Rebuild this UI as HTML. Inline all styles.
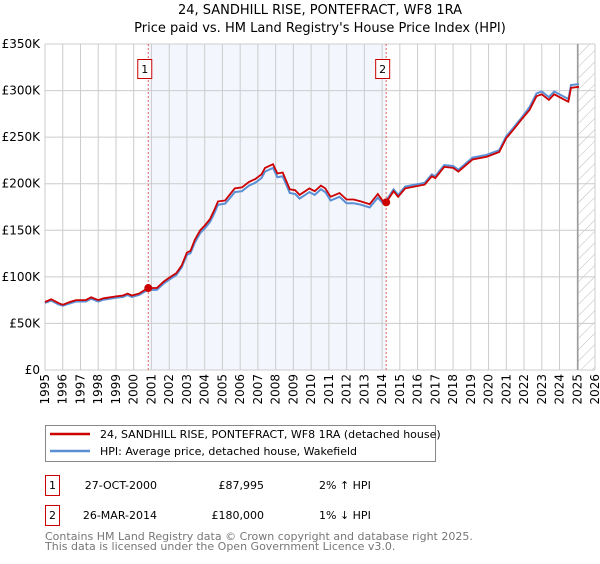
<!DOCTYPE html>
<html><head><meta charset="utf-8"><style>
body{margin:0;background:#fff;font-family:"DejaVu Sans","Liberation Sans",sans-serif;}
svg text{font-family:"DejaVu Sans","Liberation Sans",sans-serif;}
</style></head><body>
<svg id="c" width="600" height="560" xmlns="http://www.w3.org/2000/svg">
<defs><pattern id="hatch" patternUnits="userSpaceOnUse" width="8" height="8" patternTransform="rotate(45)"><line x1="0" y1="0" x2="0" y2="8" stroke="#bbb" stroke-width="1"/></pattern></defs>
<text x="320" y="14" text-anchor="middle" font-size="13">24, SANDHILL RISE, PONTEFRACT, WF8 1RA</text>
<text x="320" y="32" text-anchor="middle" font-size="13">Price paid vs. HM Land Registry's House Price Index (HPI)</text>
<g id="plot"></g>
<g>
<rect x="45.5" y="425.5" width="390" height="36" fill="#fff" stroke="#888"/>
<line x1="50" y1="434" x2="90" y2="434" stroke="#cc0000" stroke-width="2.5"/>
<text x="100" y="438" font-size="11">24, SANDHILL RISE, PONTEFRACT, WF8 1RA (detached house)</text>
<line x1="50" y1="451" x2="90" y2="451" stroke="#5b8fd4" stroke-width="2.5"/>
<text x="100" y="455" font-size="11">HPI: Average price, detached house, Wakefield</text>
</g>
<g font-size="11">
<rect x="45.5" y="475.5" width="14" height="20" fill="#fff" stroke="#cc0000"/><text x="52.5" y="489" text-anchor="middle">1</text>
<text x="157" y="489" text-anchor="end">27-OCT-2000</text><text x="264" y="489" text-anchor="end">£87,995</text><text x="319" y="489">2% ↑ HPI</text>
<rect x="45.5" y="505.5" width="14" height="20" fill="#fff" stroke="#cc0000"/><text x="52.5" y="519" text-anchor="middle">2</text>
<text x="157" y="519" text-anchor="end">26-MAR-2014</text><text x="264" y="519" text-anchor="end">£180,000</text><text x="319" y="519">1% ↓ HPI</text>
</g>
<text x="45" y="540" font-size="11" fill="#777">Contains HM Land Registry data © Crown copyright and database right 2025.</text>
<text x="45" y="550" font-size="11" fill="#777">This data is licensed under the Open Government Licence v3.0.</text>
</svg>
<script>
const dates=[1995.0,1995.35,1995.75,1996.0,1996.4,1996.75,1997.3,1997.6,1998.0,1998.3,1999.0,1999.4,1999.65,1999.9,2000.3,2000.8,2001.3,2001.7,2002.0,2002.4,2002.7,2003.0,2003.2,2003.45,2003.75,2004.0,2004.3,2004.55,2004.75,2005.15,2005.4,2005.7,2006.1,2006.5,2006.85,2007.2,2007.4,2007.85,2008.1,2008.4,2008.8,2009.1,2009.35,2009.9,2010.2,2010.55,2010.8,2011.1,2011.6,2012.0,2012.4,2012.8,2013.3,2013.76,2014.05,2014.23,2014.65,2014.9,2015.3,2016.4,2016.8,2017.0,2017.5,2018.0,2018.3,2019.1,2019.9,2020.6,2021.0,2021.4,2021.9,2022.3,2022.7,2023.0,2023.4,2023.7,2024.3,2024.5,2024.65,2025.1];
const propertyValues=[73,76,72,70,73,75,75,78,75,77,79,80,82,80,82,88,88,95,99,104,112,126,128,140,150,155,162,172,181,182,188,195,196,202,205,210,217,221,211,212,194,193,188,195,192,198,195,186,190,183,183,181,178,189,181,180,192,186,195,199,208,206,218,217,213,226,229,234,249,258,270,279,294,296,290,296,290,288,303,304];
const hpiValues=[72,74.5,70.5,69,71.5,73.5,73.5,76.5,73.5,75.5,77.5,78.5,80.5,78.5,80.5,86,86,93,97,102,110,123.5,125.5,137,147,152,159,168.5,177.5,178.5,184,191,192,198,201,206,213,217,207,208,190,189,184,191,188,194,191,182,186,179,179,177.5,174.5,185,179,182,194,188,197,201,210,208,220,219,215,228,231,236,251,260,272,282,297,299,293,299,293,291,306,307];
const yTicks=[0,50,100,150,200,250,300,350];
const yTickLabels=["£0","£50K","£100K","£150K","£200K","£250K","£300K","£350K"];
const xYears=[1995,1996,1997,1998,1999,2000,2001,2002,2003,2004,2005,2006,2007,2008,2009,2010,2011,2012,2013,2014,2015,2016,2017,2018,2019,2020,2021,2022,2023,2024,2025,2026];
const saleDates=[2000.82,2014.23];
const salePrices=[87.995,180];
const saleLabels=["1","2"];
const dataEnd=2025.03;
const X0=45,X1=595,Y0=370,Y1=44;
const x=v=>X0+(v-1995)/(2026-1995)*(X1-X0);
const y=v=>Y0-v/350*(Y0-Y1);
const NS="http://www.w3.org/2000/svg";
const g=document.getElementById('plot');
function mk(t,a){const e=document.createElementNS(NS,t);for(const k in a)e.setAttribute(k,a[k]);g.appendChild(e);return e;}
let e=mk('rect',{x:x(saleDates[0]),y:Y1,width:x(saleDates[1])-x(saleDates[0]),height:Y0-Y1,fill:'#f3f6fd'});


e=mk('rect',{x:x(dataEnd),y:Y1,width:X1-x(dataEnd),height:Y0-Y1,fill:'url(#hatch)'});


xYears.forEach(yr=>{const l=mk('line',{x1:x(yr),x2:x(yr),y1:Y1,y2:Y0,stroke:'#ccc'});


const t=mk('text',{x:0,y:0,'font-size':12,'text-anchor':'end',transform:`translate(${x(yr)+4},${Y0+4}) rotate(-90)`});t.textContent=yr;

});
yTicks.forEach((v,i)=>{const l=mk('line',{x1:X0,x2:X1,y1:y(v),y2:y(v),stroke:'#ccc'});


const t=mk('text',{x:40,y:y(v)+4,'font-size':12,'text-anchor':'end'});t.textContent=yTickLabels[i];

});
e=mk('line',{x1:x(dataEnd),x2:x(dataEnd),y1:Y1,y2:Y0,stroke:'#999','stroke-width':1.5});


const path=vals=>dates.map((d,i)=>(i?'L':'M')+x(d).toFixed(1)+','+y(vals[i]).toFixed(1)).join('');
e=mk('path',{d:path(hpiValues),fill:'none',stroke:'#5b8fd4','stroke-width':2});


e=mk('path',{d:path(propertyValues),fill:'none',stroke:'#cc0000','stroke-width':1.8});


saleDates.forEach((d,i)=>{const l=mk('line',{x1:x(d),x2:x(d),y1:Y1,y2:Y0,stroke:'#e06060','stroke-dasharray':'2,2'});


const c=mk('circle',{cx:x(d),cy:y(salePrices[i]),r:4,fill:'#cc0000'});


const b=mk('rect',{x:x(d)-10.5,y:59.5,width:14,height:19,fill:'#fff',stroke:'#cc0000'});


const t=mk('text',{x:x(d)-3.5,y:73,'font-size':11,'text-anchor':'middle'});t.textContent=saleLabels[i];

});
</script>
</body></html>
